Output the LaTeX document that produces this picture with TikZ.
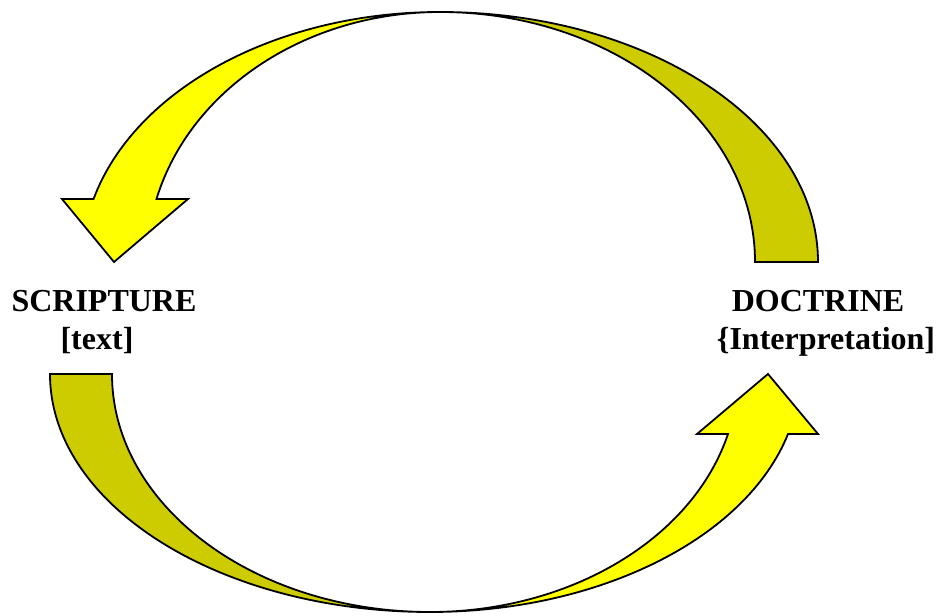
\documentclass[tikz,border=0pt]{standalone}
\usepackage{fontspec}
\setmainfont{Liberation Serif}
\usetikzlibrary{positioning}
\definecolor{cyellow}{HTML}{FFFF00}
\definecolor{colive}{HTML}{CCCC00}
\tikzset{
  every picture/.style={line width=1.8pt},
  band/.style={draw=black, fill=#1, line join=miter},
  band/.default=cyellow,
  label/.style={font=\bfseries\fontsize{32}{38}\selectfont, anchor=base, inner sep=0pt},
}

\begin{document}
\begin{tikzpicture}[x=1pt,y=1pt]
  \useasboundingbox (0,0) rectangle (938,616);
  % upper arrow: back side rising on the right, front side coming down on the left
  \draw[band=colive] (818,354) arc[start angle=0, end angle=90, x radius=378, y radius=250]
    arc[start angle=90, end angle=0, x radius=315, y radius=250] -- cycle;
  \draw[band] (440,604) arc[start angle=90, end angle=165.4, x radius=358, y radius=250]
    -- (62,417) -- (114,354) -- (188,417) -- (156.5,417)
    arc[start angle=165.4, end angle=90, x radius=293, y radius=250] -- cycle;
  % lower arrow: back side going down on the left, front side rising on the right
  \draw[band=colive] (50,242) arc[start angle=180, end angle=270, x radius=380, y radius=238]
    arc[start angle=270, end angle=180, x radius=318, y radius=238] -- cycle;
  \draw[band] (430,4) arc[start angle=270, end angle=345.4, x radius=370, y radius=238]
    -- (818,182) -- (768,242) -- (697,182) -- (728,182)
    arc[start angle=345.4, end angle=270, x radius=308, y radius=238] -- cycle;
  % labels
  \node[label] (scripture) at (104,304) {SCRIPTURE};
  \node[label] (scripturesub) at (97,266) {[text]};
  \node[label] (doctrine) at (818,304) {DOCTRINE};
  \node[label] (doctrinesub) at (826,266) {\{Interpretation]};
\end{tikzpicture}
\end{document}
